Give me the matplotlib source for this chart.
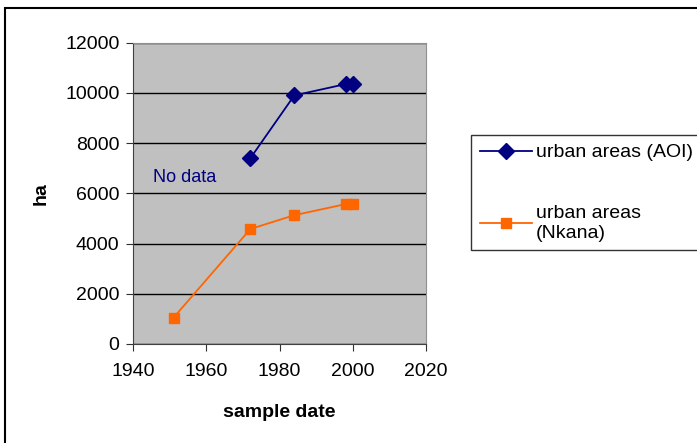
import matplotlib.pyplot as plt
from matplotlib.patches import Rectangle

plt.rcParams['font.family'] = ['Liberation Sans', 'DejaVu Sans']

years_aoi = [1972, 1984, 1998, 2000]
area_aoi = [7400, 9900, 10350, 10350]

years_nkana = [1951, 1972, 1984, 1998, 2000]
area_nkana = [1050, 4580, 5130, 5570, 5570]

xticks = [1940, 1960, 1980, 2000, 2020]
yticks = [0, 2000, 4000, 6000, 8000, 10000, 12000]

W, H = 697, 443
fig = plt.figure(figsize=(W / 100, H / 100), dpi=100)
ax = fig.add_axes([133.3 / W, 1 - 344 / H, (426 - 133.3) / W, (344 - 42.7) / H])
ax.set_facecolor('#c0c0c0')

ax.plot(years_aoi, area_aoi, color='#000080', lw=1.3, marker='D', ms=8.5,
        label='urban areas (AOI)', zorder=3)
ax.plot(years_nkana, area_nkana, color='#ff6600', lw=1.3, marker='s', ms=7.5,
        label='urban areas\n(Nkana)', zorder=3)

ax.set_xlim(1940, 2020)
ax.set_ylim(0, 12000)
ax.set_xticks(xticks)
ax.set_yticks(yticks)
ax.grid(axis='y', color='black', lw=1)
ax.set_axisbelow(True)
ax.tick_params(labelsize=14, length=5, color='#303030')
ax.tick_params(axis='x', pad=9)
ax.tick_params(axis='y', pad=5)
for s in ['top', 'right']:
    ax.spines[s].set_color('#909090')
for s in ['left', 'bottom']:
    ax.spines[s].set_color('#404040')

ax.set_xlabel('sample date', fontsize=14, fontweight='bold', labelpad=17)
ax.set_ylabel('ha', fontsize=14, fontweight='bold', labelpad=11)

ax.text(1945.3, 6450, 'No data', color='#000080', fontsize=13)

leg = fig.legend(loc='upper left', bbox_to_anchor=(471 / W, 1 - 135 / H),
                 fontsize=14, frameon=True, fancybox=False, edgecolor='black',
                 borderaxespad=0, handlelength=2.7, labelspacing=2.25,
                 borderpad=0.45, handletextpad=0.2)
leg.get_frame().set_linewidth(1)

# outer chart border
fig.patches.append(Rectangle((5 / W, -0.1), 1.2, 1 - 8 / H + 0.1,
                             transform=fig.transFigure, fill=False,
                             edgecolor='black', lw=1.5))

fig.savefig('out.png', dpi=100)
